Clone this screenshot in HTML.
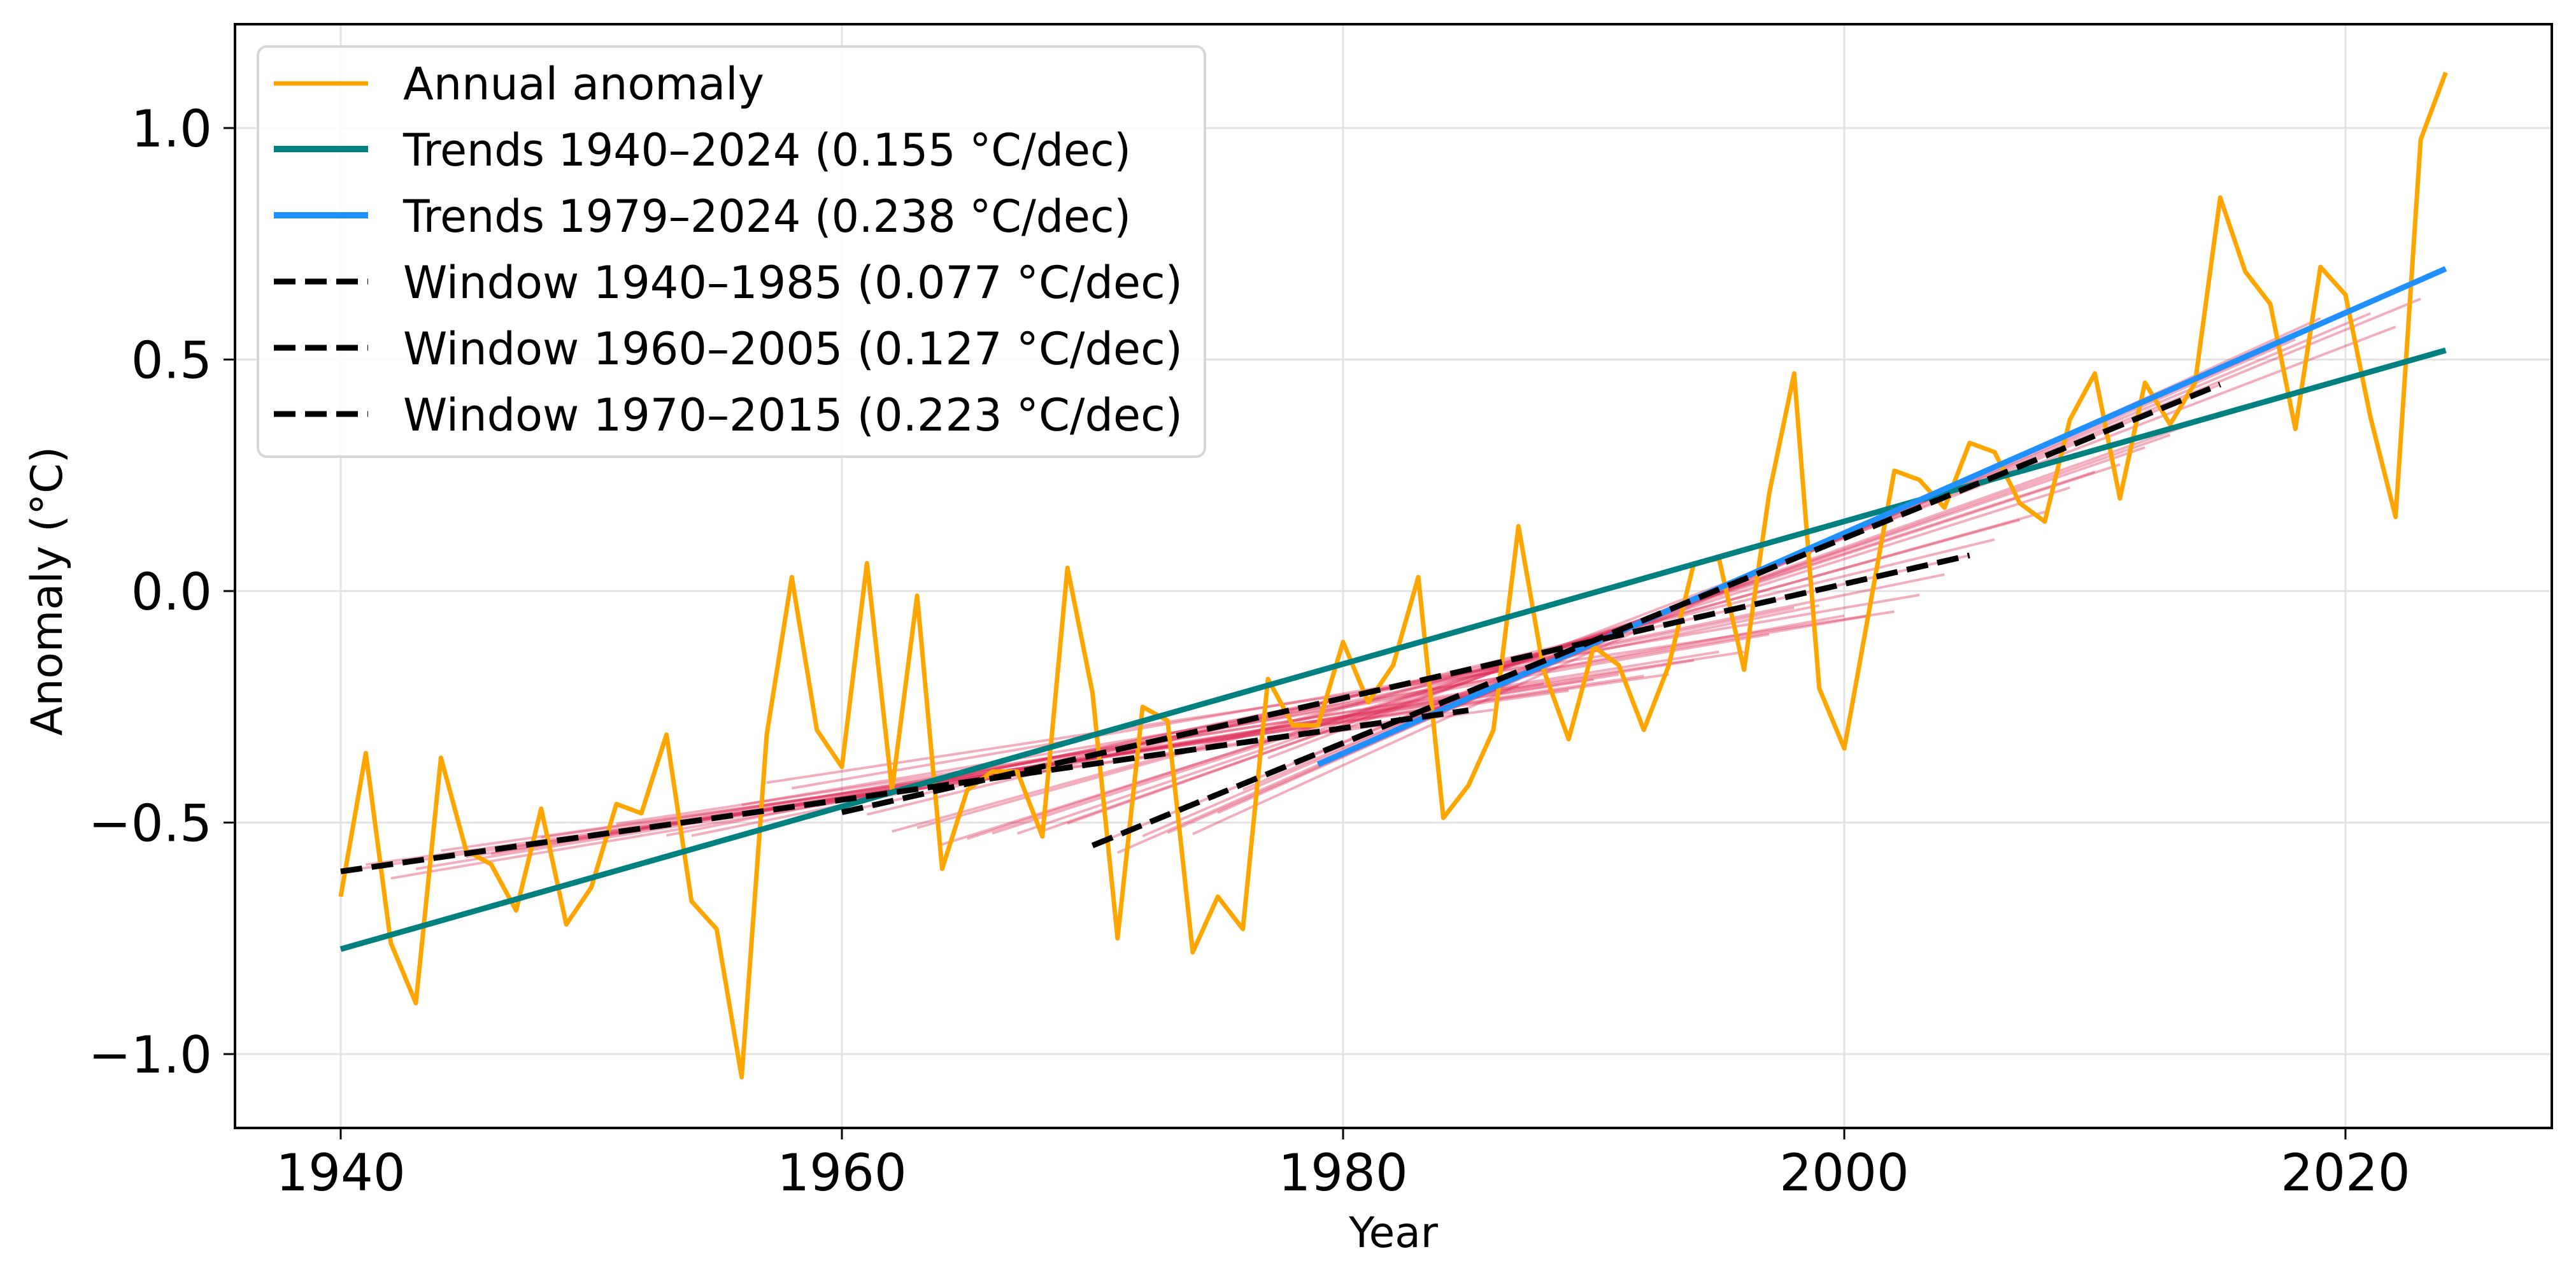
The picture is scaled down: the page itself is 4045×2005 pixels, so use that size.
<!DOCTYPE html>
<html><head><meta charset="utf-8">
<style>
html,body{margin:0;padding:0;background:#fff;}
svg{display:block;}
text{font-family:"DejaVu Sans","Liberation Sans",sans-serif;}
</style></head>
<body>
<svg id="chart" width="4045" height="2005" viewBox="0 0 4045 2005" xmlns="http://www.w3.org/2000/svg">
<rect x="0" y="0" width="4045" height="2005" fill="#fff"/>
<g id="grid"></g>
<g id="pink"></g>
<g id="series"></g>
<g id="axes"></g>
<g id="legend"></g>
</svg>
<script>
const years = [];
for (let y = 1940; y <= 2024; y++) years.push(y);
const anomalies = [
-0.66,-0.35,-0.76,-0.89,-0.36,-0.56,-0.59,-0.69,-0.47,-0.72,
-0.64,-0.46,-0.48,-0.31,-0.67,-0.73,-1.05,-0.31,0.03,-0.30,
-0.38,0.06,-0.43,-0.01,-0.60,-0.43,-0.39,-0.39,-0.53,0.05,
-0.22,-0.75,-0.25,-0.28,-0.78,-0.66,-0.73,-0.19,-0.29,-0.29,
-0.11,-0.24,-0.16,0.03,-0.49,-0.42,-0.30,0.14,-0.17,-0.32,
-0.12,-0.16,-0.30,-0.16,0.06,0.07,-0.17,0.21,0.47,-0.21,
-0.34,-0.04,0.26,0.24,0.18,0.32,0.30,0.19,0.15,0.37,
0.47,0.20,0.45,0.36,0.45,0.85,0.69,0.62,0.35,0.70,
0.64,0.375,0.16,0.975,1.12];
const xTicks = [1940,1960,1980,2000,2020];
const yTicks = [-1.0,-0.5,0.0,0.5,1.0];
const yTickLabels = ["\u22121.0","\u22120.5","0.0","0.5","1.0"];
const trendFull = [1940,2024];
const trendRecent = [1979,2024];
const windowStarts = [1940,1960,1970];
const windowLength = 45;

const NS = "http://www.w3.org/2000/svg";
const L = 369, R = 4007, T = 38, B = 1771;
function xs(v){ return 535 + (v - 1940) * 39.35; }
function ys(v){ return 928 - v * 727; }
function mk(tag, attrs, parent){
  const e = document.createElementNS(NS, tag);
  for (const k in attrs) e.setAttribute(k, attrs[k]);
  parent.appendChild(e);
  return e;
}
function fit(y0, y1){
  const xsArr=[], ysArr=[];
  for (let i=0;i<years.length;i++){ if(years[i]>=y0 && years[i]<=y1){ xsArr.push(years[i]); ysArr.push(anomalies[i]); } }
  const n=xsArr.length; let mx=0,my=0;
  for(let i=0;i<n;i++){mx+=xsArr[i];my+=ysArr[i];} mx/=n; my/=n;
  let sxy=0,sxx=0;
  for(let i=0;i<n;i++){sxy+=(xsArr[i]-mx)*(ysArr[i]-my); sxx+=(xsArr[i]-mx)**2;}
  const b=sxy/sxx, a=my-b*mx;
  return [a+b*y0, a+b*y1];
}
const grid=document.getElementById('grid');
xTicks.forEach(t=>{
  const g=mk('line',{x1:xs(t),x2:xs(t),y1:T,y2:B,stroke:'#e3e3e3','stroke-width':3},grid);
  
  
});
yTicks.forEach(t=>{
  const g=mk('line',{x1:L,x2:R,y1:ys(t),y2:ys(t),stroke:'#e3e3e3','stroke-width':3},grid);
  
  
});
const pink=document.getElementById('pink');
for (let s=1940; s+windowLength<=2024; s++){
  const f=fit(s,s+windowLength);
  const l=mk('line',{x1:xs(s),y1:ys(f[0]),x2:xs(s+windowLength),y2:ys(f[1]),stroke:'#dc2a55','stroke-opacity':0.38,'stroke-width':4},pink);
  
  
}
const series=document.getElementById('series');
const pts=years.map((y,i)=>xs(y).toFixed(1)+','+ys(anomalies[i]).toFixed(1)).join(' ');
const orange=mk('polyline',{points:pts,fill:'none',stroke:'#ffa500','stroke-width':7,'stroke-linejoin':'round'},series);


let f=fit(trendFull[0],trendFull[1]);
const g1=mk('line',{x1:xs(trendFull[0]),y1:ys(f[0]),x2:xs(trendFull[1]),y2:ys(f[1]),stroke:'#008080','stroke-width':9},series);


f=fit(trendRecent[0],trendRecent[1]);
const g2=mk('line',{x1:xs(trendRecent[0]),y1:ys(f[0]),x2:xs(trendRecent[1]),y2:ys(f[1]),stroke:'#1e90ff','stroke-width':9},series);


windowStarts.forEach(s=>{
  const ff=fit(s,s+windowLength);
  const d=mk('line',{x1:xs(s),y1:ys(ff[0]),x2:xs(s+windowLength),y2:ys(ff[1]),stroke:'#000','stroke-width':9,'stroke-dasharray':'34 15'},series);
  
  
});
const axes=document.getElementById('axes');
const frame=mk('rect',{x:L,y:T,width:R-L,height:B-T,fill:'none',stroke:'#000','stroke-width':4},axes);


xTicks.forEach(t=>{
  const tk=mk('line',{x1:xs(t),x2:xs(t),y1:B,y2:B+18,stroke:'#000','stroke-width':3},axes);
  
  
  const tx=mk('text',{x:xs(t),y:1869,'font-size':80,'text-anchor':'middle',fill:'#000'},axes);
  tx.textContent=String(t);
  
  
});
yTicks.forEach((t,i)=>{
  const tk=mk('line',{x1:L-18,x2:L,y1:ys(t),y2:ys(t),stroke:'#000','stroke-width':3},axes);
  
  
  const tx=mk('text',{x:333,y:ys(t)+29,'font-size':80,'text-anchor':'end',fill:'#000'},axes);
  tx.textContent=yTickLabels[i];
  
  
});
</script>
<svg style="position:absolute;left:0;top:0" width="4045" height="2005">
<text x="2188" y="1958" font-size="66" text-anchor="middle" font-family="DejaVu Sans, Liberation Sans, sans-serif">Year</text>
<text transform="translate(97,928) rotate(-90)" font-size="68" text-anchor="middle" font-family="DejaVu Sans, Liberation Sans, sans-serif">Anomaly (°C)</text>
<g font-family="DejaVu Sans, Liberation Sans, sans-serif" font-size="70">
<rect x="405" y="73" width="1487" height="644" rx="14" fill="#fff" fill-opacity="0.85" stroke="#d6d6d6" stroke-width="4"/>
<line x1="430" y1="131" x2="578" y2="131" stroke="#ffa500" stroke-width="7"/>
<text x="633" y="156" textLength="567" lengthAdjust="spacingAndGlyphs">Annual anomaly</text>
<line x1="430" y1="234" x2="578" y2="234" stroke="#008080" stroke-width="10"/>
<text x="633" y="260" textLength="1143" lengthAdjust="spacingAndGlyphs">Trends 1940–2024 (0.155 °C/dec)</text>
<line x1="430" y1="338" x2="578" y2="338" stroke="#1e90ff" stroke-width="10"/>
<text x="633" y="364" textLength="1143" lengthAdjust="spacingAndGlyphs">Trends 1979–2024 (0.238 °C/dec)</text>
<line x1="430" y1="442" x2="578" y2="442" stroke="#000" stroke-width="9" stroke-dasharray="34 15"/>
<text x="633" y="468" textLength="1224" lengthAdjust="spacingAndGlyphs">Window 1940–1985 (0.077 °C/dec)</text>
<line x1="430" y1="546" x2="578" y2="546" stroke="#000" stroke-width="9" stroke-dasharray="34 15"/>
<text x="633" y="572" textLength="1224" lengthAdjust="spacingAndGlyphs">Window 1960–2005 (0.127 °C/dec)</text>
<line x1="430" y1="650" x2="578" y2="650" stroke="#000" stroke-width="9" stroke-dasharray="34 15"/>
<text x="633" y="676" textLength="1224" lengthAdjust="spacingAndGlyphs">Window 1970–2015 (0.223 °C/dec)</text>
</g>
</svg>
</body></html>
